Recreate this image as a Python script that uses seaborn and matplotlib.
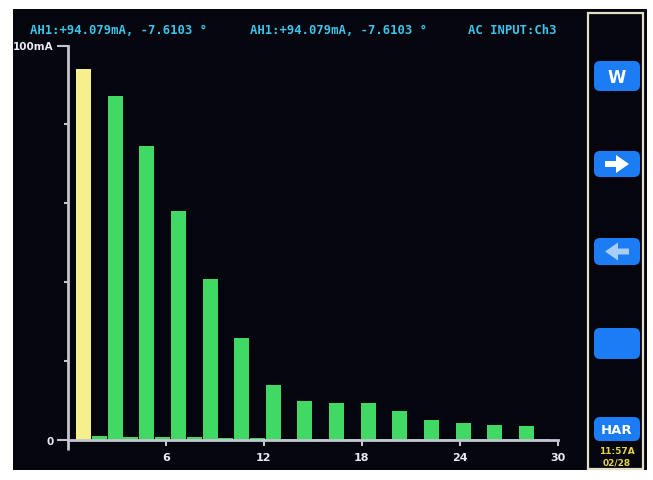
import numpy as np
import pandas as pd
import matplotlib
matplotlib.use("Agg")
import matplotlib.pyplot as plt
import matplotlib.patches as mpatches
import seaborn as sns

# ---------------- data ----------------
harmonics = list(range(1, 31))
current_ma = [94.079, 0.9, 87.1, 0.8, 74.6, 0.7, 58.1, 0.7, 40.8, 0.5,
              25.8, 0.4, 14.0, 0.3, 9.8, 0.3, 9.4, 0.3, 9.4, 0.3,
              7.4, 0.3, 5.1, 0.3, 4.2, 0.3, 3.9, 0.3, 3.6, 0.3]
bar_kind = ["fundamental"] + ["harmonic"] * 29
x_ticks = [6, 12, 18, 24, 30]
x_tick_labels = ["6", "12", "18", "24", "30"]
y_major_ticks = [0, 100]
y_major_labels = ["0", "100mA"]
y_minor_ticks = [20, 40, 60, 80]
header_texts = ["AH1:+94.079mA, -7.6103 °", "AH1:+94.079mA, -7.6103 °", "AC INPUT:Ch3"]
button_labels = ["W", "", "", "", "HAR"]
clock_lines = ["11:57A", "02/28"]

# instrument draws 31 slots across the 0..30 scale
SLOT = 30 / 31

BG = "#05060d"
AXC = "#c4c4d2"
YELLOW = "#f6f08c"
GREEN = "#3fd964"
CYAN = "#3cc4ec"
BLUE = "#1c7cf4"

df = pd.DataFrame({"harmonic": harmonics, "ma": current_ma, "kind": bar_kind})
df["pos"] = df["harmonic"] * SLOT

W, H = 653, 481
fig = plt.figure(figsize=(W / 100, H / 100), dpi=100)
fig.patch.set_facecolor("white")

# background / overlay axes in pixel coords
bg = fig.add_axes([0, 0, 1, 1], zorder=0)
bg.set_xlim(0, W)
bg.set_ylim(H, 0)
bg.axis("off")
bg.add_patch(mpatches.Rectangle((13, 10), 634, 461, facecolor=BG, edgecolor="none"))

# header texts
for txt, x in zip(header_texts, [30, 250, 468]):
    bg.text(x, 30, txt, color=CYAN, fontsize=8.8, fontweight="bold",
            family="DejaVu Sans Mono", va="center", ha="left")

# right panel frame
bg.add_patch(mpatches.Rectangle((588, 14), 55, 456, facecolor=BG,
                                edgecolor="#e4e0c8", lw=1.6))
btn_y = [(62, 92), (152, 178), (239, 266), (329, 360), (418, 442)]
for (y0, y1), lab in zip(btn_y, button_labels):
    bg.add_patch(mpatches.FancyBboxPatch((596, y0 + 2), 42, (y1 - y0) - 4,
                                         boxstyle="round,pad=2,rounding_size=6",
                                         facecolor=BLUE, edgecolor="none"))
    if lab:
        bg.text(617, (y0 + y1) / 2 + 1, lab, color="white",
                fontsize=12 if lab == "W" else 9.5, fontweight="bold",
                ha="center", va="center")

# arrows
def arrow(cy, direction, color):
    if direction > 0:
        pts = [(605, cy - 3), (616, cy - 3), (616, cy - 9), (629, cy),
               (616, cy + 9), (616, cy + 3), (605, cy + 3)]
    else:
        pts = [(629, cy - 3), (618, cy - 3), (618, cy - 9), (605, cy),
               (618, cy + 9), (618, cy + 3), (629, cy + 3)]
    bg.add_patch(mpatches.Polygon(pts, closed=True, facecolor=color, edgecolor="none"))

arrow(165, 1, "white")
arrow(252.5, -1, "#a8cdf8")

for i, line in enumerate(clock_lines):
    bg.text(617, 452 + i * 11, line, color="#e6d24a", fontsize=6.5,
            fontweight="bold", ha="center", va="center")

# ---------------- main chart ----------------
left, right = 67.7, 558.0
top, bottom = 46.5, 441.0
ax = fig.add_axes([left / W, 1 - bottom / H, (right - left) / W, (bottom - top) / H],
                  zorder=2)
ax.set_facecolor("none")

sns.barplot(data=df, x="pos", y="ma", hue="kind",
            palette={"fundamental": YELLOW, "harmonic": GREEN},
            native_scale=True, width=0.95, saturation=1, dodge=False,
            legend=False, errorbar=None, ax=ax, zorder=3)

ax.set_xlim(0, 30)
ax.set_ylim(0, 100)
ax.set_xlabel("")
ax.set_ylabel("")

for s in ["top", "right"]:
    ax.spines[s].set_visible(False)
for s in ["left", "bottom"]:
    ax.spines[s].set_color(AXC)
    ax.spines[s].set_linewidth(2.0)
    ax.spines[s].set_zorder(4)

ax.set_xticks(x_ticks)
ax.set_xticklabels(x_tick_labels)
ax.set_xticks([0], minor=True)
ax.set_yticks(y_major_ticks)
ax.set_yticklabels(y_major_labels)
ax.set_yticks(y_minor_ticks, minor=True)

ax.tick_params(axis="x", which="major", direction="out", length=4, width=1.5,
               color=AXC, labelcolor="#eaeaf2", labelsize=8, pad=5)
ax.tick_params(axis="x", which="minor", direction="out", length=7, width=2,
               color=AXC)
ax.tick_params(axis="y", which="major", direction="out", length=8, width=1.5,
               color=AXC, labelcolor="#eaeaf2", labelsize=7.5, pad=2)
ax.tick_params(axis="y", which="minor", direction="out", length=3, width=1.5,
               color=AXC)
for lab in ax.get_xticklabels() + ax.get_yticklabels():
    lab.set_fontweight("bold")

fig.savefig("out.png", dpi=100, facecolor=fig.get_facecolor())
